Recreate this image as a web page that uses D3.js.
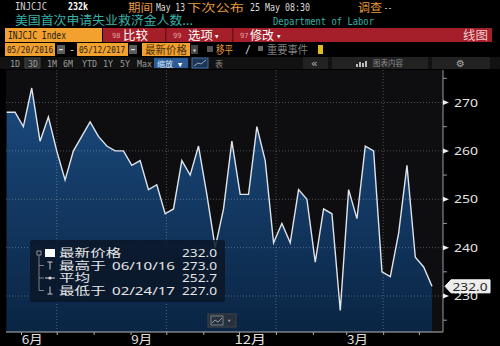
<!DOCTYPE html>
<html>
<head>
<meta charset="utf-8">
<script src="https://cdn.jsdelivr.net/npm/d3@7"></script>
<style>
  body { margin: 0; background: #000; }
  svg { display: block; }
</style>
</head>
<body>
<div id="GRAPH_SVG"></div>
<script>
const WIDTH = 500;
const HEIGHT = 346;

// weekly initial claims (thousands), week dates from START_DATE
const START_DATE = "2016-05-20";
const claims = [268, 268, 265, 273, 262, 267, 260, 254, 260, 263, 266, 263, 261,
                260, 260, 257, 258, 252, 253, 247, 248, 258, 255, 261, 251, 240,
                248, 262, 251, 251, 265, 258, 241, 245, 241, 252, 250, 237, 248,
                247, 227, 252, 246, 261, 260, 235, 234, 243, 257, 238, 236, 232];

const yTicks = [230, 240, 250, 260, 270];
const yMinorTicks = [225, 235, 245, 255, 265, 275];
const monthLabels = ["6月", "9月", "12月", "3月"];
const monthLabelDates = ["2016-06-10", "2016-09-10", "2016-12-10", "2017-03-10"];
const gridDates = ["2016-07-01", "2016-10-01", "2017-01-01", "2017-04-01"];

const legendNames = ["最新价格", "最高于", "平均", "最低于"];
const legendDates = ["", "06/10/16", "", "02/24/17"];
const legendValues = [232.0, 273.0, 252.7, 227.0];
const lastValue = 232.0;

const PLOT_LEFT = 6, PLOT_RIGHT = 443, PLOT_TOP = 70, PLOT_BOTTOM = 332;
const MONO = "'DejaVu Sans Mono','Noto Sans CJK SC',monospace";
const CJK = "'Noto Sans CJK SC','Noto Sans',sans-serif";
const SANS = "'Noto Sans','Noto Sans CJK SC',sans-serif";
const ORANGE = "#f2a02e";
const AMBER = "#e79a3c";
const TEAL = "#35b2a9";

const parse = d3.timeParse("%Y-%m-%d");
const start = parse(START_DATE);
const series = claims.map((v, i) => ({ date: d3.timeDay.offset(start, 7 * i), value: v }));

const svg = d3.select("#GRAPH_SVG").append("svg")
   .attr("width", WIDTH)
   .attr("height", HEIGHT);

svg.append("rect").attr("width", WIDTH).attr("height", HEIGHT).attr("fill", "#000");

function label(g, x, y, s, o = {}) {
   const t = g.append("text")
      .attr("x", x).attr("y", y)
      .style("font-family", o.font || MONO)
      .style("font-size", (o.size || 10) + "px")
      .attr("fill", o.fill || "#ddd")
      .text(s);
   if (o.weight) t.style("font-weight", o.weight);
   if (o.anchor) t.attr("text-anchor", o.anchor);
   if (o.len) t.attr("textLength", o.len).attr("lengthAdjust", "spacingAndGlyphs");
   return t;
}

// Header
const head = svg.append("g");
label(head, 15, 10, "INJCJC", { len: 32, fill: "#cfcfcf" });
label(head, 68, 10, "232k", { len: 20, size: 11, weight: "bold", fill: "#fff" });
label(head, 128, 12, "期间", { font: CJK, size: 11, len: 25, fill: AMBER });
label(head, 156, 10.5, "May 13", { len: 29, fill: "#ddd" });
label(head, 187, 12, "下次公布", { font: CJK, size: 11, len: 57, fill: AMBER });
label(head, 250, 10.5, "25 May 08:30", { len: 60, fill: "#ddd" });
label(head, 358, 12, "调查", { font: CJK, size: 11, len: 24, fill: AMBER });
label(head, 384, 10.5, "--", { len: 8, fill: "#ddd" });

label(head, 15, 25, "美国首次申请失业救济金人数...", { font: CJK, size: 12, len: 178, fill: TEAL });
label(head, 273, 25, "Department of Labor", { len: 101, fill: TEAL });

// menu bar
head.append("rect").attr("x", 5).attr("y", 28).attr("width", 97).attr("height", 14).attr("fill", ORANGE);
label(head, 8, 38.5, "INJCJC Index", { len: 58, fill: "#1a1a1a" });
head.append("rect").attr("x", 103).attr("y", 28).attr("width", 389).attr("height", 14).attr("fill", "#a41f2a");
[165, 232].forEach(sx => head.append("rect").attr("x", sx).attr("y", 28).attr("width", 1.5).attr("height", 14).attr("fill", "#6e1118"));
label(head, 112, 38, "98", { size: 7, fill: "#e7a3a3" });
label(head, 123, 39.5, "比较", { font: CJK, size: 12, len: 25, fill: "#fff" });
label(head, 173, 38, "99", { size: 7, fill: "#e7a3a3" });
label(head, 188, 39.5, "选项", { font: CJK, size: 12, len: 25, fill: "#fff" });
label(head, 214, 38.5, "▾", { size: 9, fill: "#fff" });
label(head, 240, 38, "97", { size: 7, fill: "#e7a3a3" });
label(head, 250, 39.5, "修改", { font: CJK, size: 12, len: 24, fill: "#fff" });
label(head, 276, 38.5, "▾", { size: 9, fill: "#fff" });
label(head, 488, 39.5, "线图", { font: CJK, size: 12, len: 25, fill: "#f4d0d0", anchor: "end" });

// date row
[[5, 50], [77, 51], [142, 48]].forEach(([bx, bw]) =>
   head.append("rect").attr("x", bx).attr("y", 43).attr("width", bw).attr("height", 13).attr("fill", ORANGE));
label(head, 7, 53, "05/20/2016", { size: 9.5, len: 46, fill: "#1a1a1a" });
label(head, 79, 53, "05/12/2017", { size: 9.5, len: 46, fill: "#1a1a1a" });
label(head, 145, 54, "最新价格", { font: CJK, size: 11, len: 42, fill: "#4a3210" });
[57, 129].forEach(ix => {
   head.append("rect").attr("x", ix).attr("y", 45).attr("width", 8).attr("height", 9).attr("fill", "#5c5c5c");
   head.append("rect").attr("x", ix + 2).attr("y", 49).attr("width", 4).attr("height", 1.2).attr("fill", "#ddd");
});
label(head, 69, 53, "-", { fill: "#ddd" });
head.append("rect").attr("x", 191).attr("y", 45).attr("width", 7).attr("height", 9).attr("fill", "#444");
label(head, 192, 52.5, "▾", { size: 8, fill: "#ccc" });
head.append("rect").attr("x", 207).attr("y", 46).attr("width", 6).attr("height", 6).attr("fill", "#555");
label(head, 216, 54, "移平", { font: CJK, size: 11, len: 17, fill: AMBER });
label(head, 245, 53, "/", { fill: "#ddd" });
head.append("rect").attr("x", 258).attr("y", 46).attr("width", 5).attr("height", 5).attr("fill", "#666");
label(head, 267, 54, "重要事件", { font: CJK, size: 11, len: 41, fill: "#7d7d7d" });
head.append("rect").attr("x", 318).attr("y", 45).attr("width", 5).attr("height", 9).attr("fill", "#e2bd1e");

// button row
head.append("rect").attr("x", 0).attr("y", 57).attr("width", WIDTH).attr("height", 12).attr("fill", "#121212");
head.append("rect").attr("x", 25).attr("y", 58).attr("width", 15).attr("height", 10).attr("fill", "#2d2d2d").attr("stroke", "#444");
const buttons = [["1D", 10], ["3D", 28], ["1M", 47], ["6M", 63], ["YTD", 82], ["1Y", 103], ["5Y", 120], ["Max", 137]];
buttons.forEach(([b, bx]) => label(head, bx, 66.5, b, { size: 8.5, len: b.length * 5, fill: "#9c9c9c" }));
head.append("rect").attr("x", 154).attr("y", 58).attr("width", 34).attr("height", 10).attr("fill", "#2b5c98");
label(head, 157, 66.5, "缩放", { font: CJK, size: 8, len: 16, fill: "#dde8f5" });
label(head, 178, 66.5, "▼", { size: 7, fill: "#fff" });
head.append("rect").attr("x", 192).attr("y", 58).attr("width", 16).attr("height", 10).attr("fill", "#1d3552").attr("stroke", "#3f6ea6");
head.append("path").attr("d", "M194,66 L198,63 L201,64 L206,60").attr("fill", "none").attr("stroke", "#aac4e4").attr("stroke-width", 0.8);
label(head, 215, 66.5, "表", { font: CJK, size: 8, fill: "#8a8a8a" });
[[303, 25], [332, 96], [432, 58]].forEach(([bx, bw]) =>
   head.append("rect").attr("x", bx).attr("y", 57).attr("width", bw).attr("height", 12).attr("fill", "#222"));
label(head, 311, 66.5, "«", { size: 11, fill: "#bbb" });
[[356, 3], [359, 5], [362, 4], [365, 6]].forEach(([bx, bh]) =>
   head.append("rect").attr("x", bx).attr("y", 67 - bh).attr("width", 2).attr("height", bh).attr("fill", "#bbb"));
label(head, 373, 66, "图表内容", { font: CJK, size: 8, len: 30, fill: "#8c8c8c" });
label(head, 456, 67, "⚙", { font: "'DejaVu Sans'", size: 10, fill: "#aaa" });

// Scales
const xScale = d3.scaleTime()
   .domain([series[0].date, series[series.length - 1].date])
   .range([6.7, 432]);
const yScale = d3.scaleLinear()
   .domain([222.56, 276.72])
   .range([PLOT_BOTTOM, PLOT_TOP]);

// Plot
const defs = svg.append("defs");
const grad = defs.append("linearGradient").attr("id", "fillGrad")
   .attr("gradientUnits", "userSpaceOnUse")
   .attr("x1", 0).attr("y1", PLOT_TOP).attr("x2", 0).attr("y2", PLOT_BOTTOM);
grad.append("stop").attr("offset", "0%").attr("stop-color", "#1c4d82");
grad.append("stop").attr("offset", "100%").attr("stop-color", "#0a2544");

svg.append("rect")
   .attr("x", PLOT_LEFT).attr("y", PLOT_TOP)
   .attr("width", PLOT_RIGHT - PLOT_LEFT).attr("height", PLOT_BOTTOM - PLOT_TOP)
   .attr("fill", "#0e0e10");

const area = d3.area()
   .x(d => xScale(d.date))
   .y0(PLOT_BOTTOM)
   .y1(d => yScale(d.value));

svg.append("path")
   .datum(series)
   .attr("d", area)
   .attr("fill", "url(#fillGrad)");

// grid
svg.append("g").selectAll("line").data(yTicks).join("line")
   .attr("x1", PLOT_LEFT).attr("x2", PLOT_RIGHT)
   .attr("y1", d => yScale(d)).attr("y2", d => yScale(d))
   .attr("stroke", "#fff").attr("stroke-opacity", 0.28)
   .attr("stroke-dasharray", "1,2");
svg.append("g").selectAll("line").data(gridDates.map(parse)).join("line")
   .attr("x1", d => xScale(d)).attr("x2", d => xScale(d))
   .attr("y1", PLOT_TOP).attr("y2", PLOT_BOTTOM)
   .attr("stroke", "#fff").attr("stroke-opacity", 0.28)
   .attr("stroke-dasharray", "1,2");

const line = d3.line()
   .x(d => xScale(d.date))
   .y(d => yScale(d.value));

svg.append("path")
   .datum(series)
   .attr("d", line)
   .attr("fill", "none")
   .attr("stroke", "#dfe3ea")
   .attr("stroke-width", 1.4)
   .attr("stroke-linejoin", "miter");

// X AXIS
svg.append("line")
   .attr("x1", PLOT_LEFT).attr("x2", PLOT_RIGHT)
   .attr("y1", PLOT_BOTTOM).attr("y2", PLOT_BOTTOM)
   .attr("stroke", "#b8b8b8");

svg.append("g")
   .attr("transform", "translate(0," + PLOT_BOTTOM + ")")
   .call(d3.axisBottom(xScale).ticks(d3.timeMonth.every(1)).tickSize(3).tickFormat(""))
   .call(g => g.select(".domain").remove())
   .call(g => g.selectAll("line").attr("stroke", "#aaa"));

svg.append("g")
   .attr("transform", "translate(0," + PLOT_BOTTOM + ")")
   .call(d3.axisBottom(xScale).tickValues(monthLabelDates.map(parse))
      .tickFormat((d, i) => monthLabels[i]).tickSize(0).tickPadding(3))
   .call(g => g.select(".domain").remove())
   .call(g => g.selectAll("text")
      .style("font-family", CJK).style("font-size", "12px")
      .attr("fill", "#e2e2e2")
      .attr("textLength", (d, i) => monthLabels[i].length * 10.5)
      .attr("lengthAdjust", "spacingAndGlyphs"));

// Y AXIS
svg.append("line")
   .attr("x1", PLOT_RIGHT).attr("x2", PLOT_RIGHT)
   .attr("y1", PLOT_TOP).attr("y2", PLOT_BOTTOM)
   .attr("stroke", "#9a9a9a");

svg.append("g").selectAll("line").data(yMinorTicks).join("line")
   .attr("x1", PLOT_RIGHT).attr("x2", PLOT_RIGHT + 4)
   .attr("y1", d => yScale(d)).attr("y2", d => yScale(d))
   .attr("stroke", "#9a9a9a");

svg.append("g").selectAll("path").data(yTicks).join("path")
   .attr("d", d => `M${PLOT_RIGHT},${yScale(d) - 2.5} L${PLOT_RIGHT + 6},${yScale(d)} L${PLOT_RIGHT},${yScale(d) + 2.5} Z`)
   .attr("fill", "#f0f0f0");

svg.append("g")
   .attr("transform", "translate(" + PLOT_RIGHT + ",0)")
   .call(d3.axisRight(yScale).tickValues(yTicks).tickSize(0).tickPadding(11))
   .call(g => g.select(".domain").remove())
   .call(g => g.selectAll("text")
      .style("font-family", SANS).style("font-size", "11.5px")
      .attr("fill", "#e4e4e4")
      .attr("textLength", 24).attr("lengthAdjust", "spacingAndGlyphs"));

// last value tag
const ly = yScale(lastValue);
svg.append("path")
   .attr("d", `M445,${ly} L451,${ly - 6.5} L490,${ly - 6.5} L490,${ly + 6.5} L451,${ly + 6.5} Z`)
   .attr("fill", "#ececec").attr("stroke", "#fff");
label(svg, 470, ly + 4.5, d3.format(".1f")(lastValue), { font: SANS, size: 11.5, len: 35, anchor: "middle", fill: "#1e1e1e" });

// Legend
const leg = svg.append("g");
leg.append("rect")
   .attr("x", 30).attr("y", 240).attr("width", 195).attr("height", 62).attr("rx", 2)
   .attr("fill", "#0b1628").attr("fill-opacity", 0.86);
const rowY = [253, 265.5, 278, 290.5];
leg.append("rect").attr("x", 37).attr("y", 251).attr("width", 4).attr("height", 4)
   .attr("fill", "none").attr("stroke", "#aaa").attr("stroke-width", 0.8);
leg.append("rect").attr("x", 45).attr("y", 249).attr("width", 10).attr("height", 8).attr("fill", "#fff");
leg.append("line").attr("x1", 39).attr("x2", 39).attr("y1", 255).attr("y2", rowY[3]).attr("stroke", "#999").attr("stroke-width", 0.8);
rowY.slice(1).forEach(ry => leg.append("line").attr("x1", 39).attr("x2", 44).attr("y1", ry).attr("y2", ry).attr("stroke", "#999").attr("stroke-width", 0.8));
leg.append("path").attr("d", `M47.5,${rowY[1] - 3.5} H52.5 M50,${rowY[1] - 3.5} V${rowY[1] + 4}`).attr("stroke", "#ccc").attr("fill", "none");
leg.append("path").attr("d", `M45,${rowY[2]} H55`).attr("stroke", "#ccc");
leg.append("circle").attr("cx", 50).attr("cy", rowY[2]).attr("r", 1.6).attr("fill", "#ddd");
leg.append("path").attr("d", `M50,${rowY[3] - 4} V${rowY[3] + 3.5} M47.5,${rowY[3] + 3.5} H52.5`).attr("stroke", "#ccc").attr("fill", "none");

legendNames.forEach((n, i) => {
   label(leg, 59, rowY[i] + 4, n, { font: CJK, size: 11, len: n.length * 15.6, fill: "#e6e6e6" });
   if (legendDates[i]) label(leg, 112, rowY[i] + 4, legendDates[i], { font: SANS, size: 11, len: 63, fill: "#e6e6e6" });
   label(leg, 217, rowY[i] + 4, d3.format(".1f")(legendValues[i]), { font: SANS, size: 11, len: 35, anchor: "end", fill: "#e6e6e6" });
});

// small chart-type button
svg.append("rect").attr("x", 208).attr("y", 314).attr("width", 28).attr("height", 13)
   .attr("fill", "#27303d").attr("stroke", "#444");
svg.append("rect").attr("x", 211).attr("y", 316).attr("width", 12).attr("height", 9)
   .attr("fill", "none").attr("stroke", "#8a94a2").attr("stroke-width", 0.8);
svg.append("path").attr("d", "M212,323 L215,320 L218,322 L222,318")
   .attr("fill", "none").attr("stroke", "#aab4c2").attr("stroke-width", 0.8);
label(svg, 227, 323, "▾", { size: 7, fill: "#999" });
</script>
</body>
</html>
